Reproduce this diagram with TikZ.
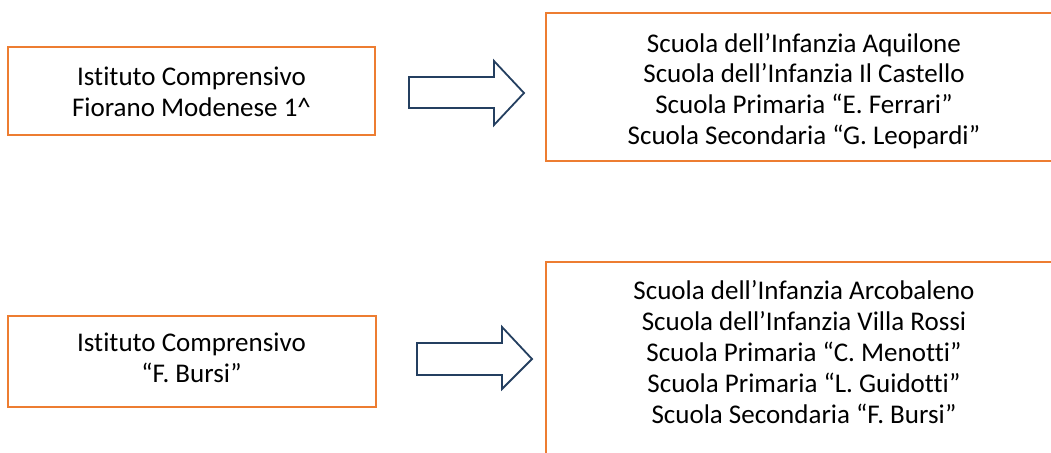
\documentclass[tikz,border=0pt]{standalone}
\usepackage{fontspec}
\setmainfont{Carlito}[Ligatures=NoCommon]
\definecolor{boxorange}{HTML}{ED7D31}
\definecolor{arrowblue}{HTML}{243F60}
\tikzset{
  x=1pt, y=-1pt,
  orgbox/.style={draw=boxorange, line width=1.8pt, fill=white, rectangle, inner sep=0pt},
  txt/.style={align=center, font=\fontsize{27}{30.8}\selectfont, inner sep=0pt, text=black},
  blockarrow/.style={draw=arrowblue, line width=1.8pt, fill=white, line join=miter}
}
\begin{document}
\begin{tikzpicture}
\useasboundingbox (0,0) rectangle (1051,452);
\clip (0,0) rectangle (1051,452);
% boxes
\node[orgbox, minimum width=367pt, minimum height=88pt] (b1) at (191.5,91) {};
\node[orgbox, minimum width=368pt, minimum height=91pt] (b3) at (192,361.5) {};
\node[orgbox, minimum width=514pt, minimum height=148pt] (b2) at (803,87) {};
\node[orgbox, minimum width=514pt, minimum height=208pt] (b4) at (803,366) {};
% texts
\node[txt] (t1) at (191.5,92) {Istituto Comprensivo\\Fiorano Modenese 1\^{}};
\node[txt] (t3) at (191.5,357.5) {Istituto Comprensivo\\“F. Bursi”};
\node[txt] (t2) at (804,91) {Scuola dell’Infanzia Aquilone\\Scuola dell’Infanzia Il Castello\\Scuola Primaria “E. Ferrari”\\Scuola Secondaria “G. Leopardi”};
\node[txt] (t4) at (804,352) {Scuola dell’Infanzia Arcobaleno\\Scuola dell’Infanzia Villa Rossi\\Scuola Primaria “C. Menotti”\\Scuola Primaria “L. Guidotti”\\Scuola Secondaria “F. Bursi”};
% block arrows
\draw[blockarrow] (409,77) -- (494,77) -- (494,61) -- (524,93) -- (494,125) -- (494,108) -- (409,108) -- cycle;
\draw[blockarrow] (417,343) -- (502,343) -- (502,327) -- (532,359) -- (502,389) -- (502,375) -- (417,375) -- cycle;
\end{tikzpicture}
\end{document}
